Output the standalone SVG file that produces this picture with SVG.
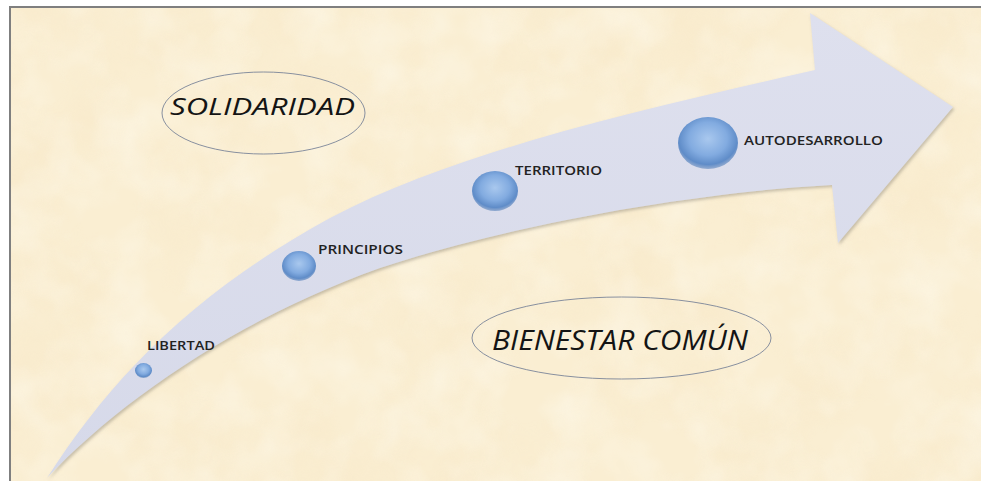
<svg xmlns="http://www.w3.org/2000/svg" width="981" height="481" viewBox="0 0 981 481">
<defs>
<style>
.lbl{font-family:"Open Sans","Noto Sans",sans-serif;font-size:12.5px;font-weight:600;fill:#222222;}
.big{font-family:"Open Sans","Noto Sans",sans-serif;font-style:italic;fill:#141414;}
.oval{fill:none;stroke:#7b8499;stroke-width:0.9;}
.ball{fill:url(#sphere);}
</style>
<filter id="paper" x="0" y="0" width="100%" height="100%">
<feTurbulence type="fractalNoise" baseFrequency="0.012" numOctaves="4" seed="7" result="n"/>
<feColorMatrix in="n" type="matrix" values="0 0 0 0 0.93  0 0 0 0 0.79  0 0 0 0 0.55  1.4 0 0 0 -0.55"/>
</filter>
<filter id="paper2" x="0" y="0" width="100%" height="100%">
<feTurbulence type="fractalNoise" baseFrequency="0.02" numOctaves="3" seed="21" result="n"/>
<feColorMatrix in="n" type="matrix" values="0 0 0 0 1  0 0 0 0 1  0 0 0 0 0.95  1.4 0 0 0 -0.55"/>
</filter>
<filter id="shadow" x="-10%" y="-10%" width="120%" height="120%">
<feDropShadow dx="1.5" dy="2" stdDeviation="1.8" flood-color="#7a7468" flood-opacity="0.4"/>
</filter>
<linearGradient id="arrowFill" x1="0" y1="0" x2="0" y2="1">
<stop offset="0" stop-color="#dee0ee"/>
<stop offset="1" stop-color="#d6d9e9"/>
</linearGradient>
<radialGradient id="sphere" cx="0.5" cy="0.42" r="0.58">
<stop offset="0" stop-color="#a9c8ee"/>
<stop offset="0.55" stop-color="#82abe0"/>
<stop offset="0.85" stop-color="#5f8cc8"/>
<stop offset="1" stop-color="#7596c4" stop-opacity="0.7"/>
</radialGradient>
</defs>

<g id="background">
<rect x="0" y="0" width="981" height="481" fill="#ffffff"/>
<rect x="10" y="7" width="1000" height="500" fill="#faeed2"/>
<rect x="10" y="7" width="1000" height="500" filter="url(#paper)" opacity="0.6"/>
<rect x="10" y="7" width="1000" height="500" filter="url(#paper2)" opacity="0.5"/>
<path d="M10,481 L10,7 L981,7" fill="none" stroke="#7f7f7f" stroke-width="2"/>
</g>

<g id="arrow">
<path d="M47,478 C110,380 190,295 330,218 C460,150 640,110 815,70 L810,13 L953,107 L838,243 L832,185 C700,192 520,222 380,268 C240,318 120,400 47,478 Z" fill="url(#arrowFill)" filter="url(#shadow)"/>
</g>

<g id="node-solidaridad">
<ellipse class="oval" cx="263.5" cy="113" rx="101.5" ry="41"/>
<text class="big" x="170" y="115" font-size="24" textLength="185" lengthAdjust="spacingAndGlyphs">SOLIDARIDAD</text>
</g>

<g id="node-bienestar">
<ellipse class="oval" cx="621.5" cy="338" rx="149.5" ry="41"/>
<text class="big" x="492" y="350" font-size="27" textLength="256" lengthAdjust="spacingAndGlyphs">BIENESTAR COMÚN</text>
</g>

<g id="node-libertad">
<ellipse class="ball" cx="143.5" cy="370.5" rx="8.5" ry="7.5"/>
<text class="lbl" x="147" y="350" textLength="68" lengthAdjust="spacingAndGlyphs">LIBERTAD</text>
</g>

<g id="node-principios">
<ellipse class="ball" cx="299" cy="266" rx="17" ry="15"/>
<text class="lbl" x="318" y="254" textLength="85" lengthAdjust="spacingAndGlyphs">PRINCIPIOS</text>
</g>

<g id="node-territorio">
<ellipse class="ball" cx="495" cy="191" rx="23" ry="20"/>
<text class="lbl" x="515" y="175" textLength="87" lengthAdjust="spacingAndGlyphs">TERRITORIO</text>
</g>

<g id="node-autodesarrollo">
<ellipse class="ball" cx="708" cy="143" rx="30" ry="26"/>
<text class="lbl" x="744" y="145" textLength="139" lengthAdjust="spacingAndGlyphs">AUTODESARROLLO</text>
</g>
</svg>
